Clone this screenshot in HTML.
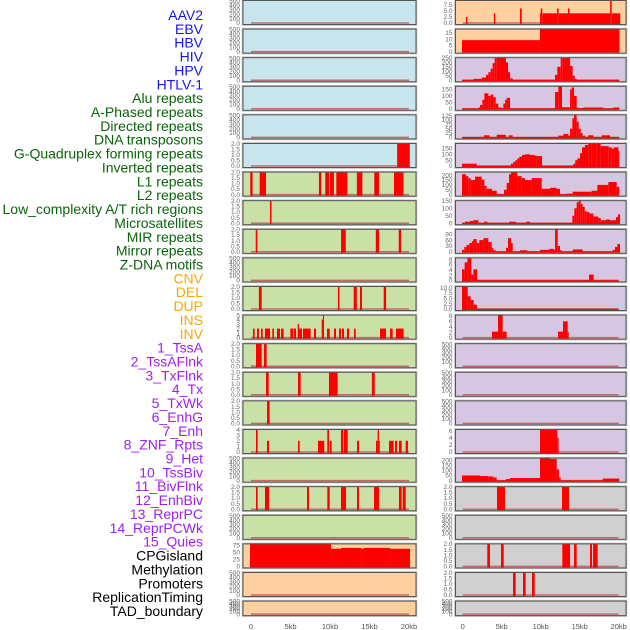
<!DOCTYPE html>
<html><head><meta charset="utf-8">
<style>
html,body{margin:0;padding:0;background:#fff;}
svg{display:block;font-family:"Liberation Sans",sans-serif;}
</style></head>
<body>
<svg id="chart" width="630" height="630" viewBox="0 0 630 630"></svg>
<script>
const labels = ["AAV2","EBV","HBV","HIV","HPV","HTLV-1","Alu repeats","A-Phased repeats","Directed repeats","DNA transposons","G-Quadruplex forming repeats","Inverted repeats","L1 repeats","L2 repeats","Low_complexity A/T rich regions","Microsatellites","MIR repeats","Mirror repeats","Z-DNA motifs","CNV","DEL","DUP","INS","INV","1_TssA","2_TssAFlnk","3_TxFlnk","4_Tx","5_TxWk","6_EnhG","7_Enh","8_ZNF_Rpts","9_Het","10_TssBiv","11_BivFlnk","12_EnhBiv","13_ReprPC","14_ReprPCWk","15_Quies","CPGisland","Methylation","Promoters","ReplicationTiming","TAD_boundary"];
const labelGroups = [6,13,5,15,5];
const groupColors = ["#1515f0","#0a640a","#ffa500","#a020f0","#000000"];

const xTicks = [0,5,10,15,20];
const xTickLabels = ["0","5kb","10kb","15kb","20kb"];

const T500 = ["0","100","200","300","400","500"], V500=[0,100,200,300,400,500];
const T2 = ["0.0","0.5","1.0","1.5","2.0"], V2=[0,0.5,1,1.5,2];

const leftBg = ["b","b","b","b","b","b","g","g","g","g","g","g","g","g","g","g","g","g","g","o","o","o"];
const leftMax = [520,520,520,520,520,2.05,2.05,2.05,2.05,520,2.05,5.1,2.05,2.05,2.05,4.1,520,2.05,520,82,520,520];
const leftTickVals = [V500,V500,V500,V500,V500,V2,V2,V2,V2,V500,V2,[0,1,2,3,4,5],V2,V2,V2,[0,1,2,3,4],V500,V2,V500,[0,25,50,75],V500,V500];
const leftTickText = [T500,T500,T500,T500,T500,T2,T2,T2,T2,T500,T2,["0","1","2","3","4","5"],T2,T2,T2,["0","1","2","3","4"],T500,T2,T500,["0","25","50","75"],T500,T500];
const leftSegs = [
 [],[],[],[],[],
 [[18.5,20.1,2]],
 [[-0.1,0.2,2],[1.1,1.9,2],[8.6,8.9,2],[9.4,9.9,2],[10,10.5,2],[10.8,12.2,2],[13.4,14.1,2],[15.6,16.2,2],[18.1,19.3,2]],
 [[2.4,2.6,2]],
 [[0.6,0.8,2],[11.4,12,2],[15.8,16.2,2],[18.7,19,2]],
 [],
 [[1,1.35,2],[11,11.2,2],[13,13.4,2],[13.8,14.05,2],[16.8,17.1,2]],
 [[0.25,0.46,2],[0.76,1.01,2],[1.27,1.48,2],[1.77,2.41,2],[2.7,2.91,2],[3.29,3.67,2],[3.8,4.13,2],[4.98,5.36,2],[5.44,5.7,2],[5.91,6.08,3],[6.08,6.46,2],[6.58,7.55,2],[7.97,8.23,2],[8.95,9.11,4],[9.11,9.24,5],[9.62,9.96,2],[10.5,10.76,2],[11.14,11.39,2],[11.52,11.77,2],[12.15,12.41,2],[13.04,13.25,2],[16.33,17.09,2],[17.6,17.93,2],[18.35,19.32,2]],
 [[0.63,1.35,2],[1.65,1.98,2]],
 [[1.9,2.24,2],[5.95,6.29,2],[9.87,10.97,2],[15.3,15.66,2]],
 [[2.03,2.36,2]],
 [[0.63,0.84,4],[2.03,2.28,2],[5.95,6.16,2],[8.48,9.28,2],[9.66,9.87,4],[9.96,10.21,2],[11.39,11.68,4],[11.77,12.24,4],[13.42,13.67,2],[15.82,16.03,2],[16.03,16.2,4],[16.2,16.29,2],[17.47,18.06,2],[18.23,18.48,2],[18.73,19.07,2],[19.58,19.87,2]],
 [],
 [[0.63,0.84,2],[1.77,2.28,2],[7.09,7.34,2],[9.66,9.96,2],[11.39,12.03,2],[13.42,13.67,2],[15.57,16.2,2],[18.73,19.07,2],[19.2,19.58,2]],
 [],
 [[-0.13,10.13,82],[10.13,11.39,63],[11.39,13.92,66],[13.92,14.3,63],[14.3,17.6,66],[17.6,20.13,63]],
 [],[]
];

const rightBg = ["o","o","p","p","p","p","p","p","p","p","p","p","p","p","p","p","p","y","y","y","y","y"];
const rightMax = [9.5,18.5,257,178,132,197,237,155,118,8.7,10.8,8.5,520,520,520,6.5,224,2.05,520,2.05,2.05,520];
const rightTickVals = [[0,2.5,5,7.5],[0,5,10,15],[0,50,100,150,200,250],[0,50,100,150],[0,25,50,75,100,125],[0,50,100,150],[0,50,100,150,200],[0,50,100,150],[0,30,60,90],[0,2,4,6,8],[0,2.5,5,7.5,10],[0,2,4,6,8],V500,V500,V500,[0,2,4,6],[0,50,100,150,200],V2,V500,V2,V2,V500];
const rightTickText = [["0.0","2.5","5.0","7.5"],["0","5","10","15"],["0","50","100","150","200","250"],["0","50","100","150"],["0","25","50","75","100","125"],["0","50","100","150"],["0","50","100","150","200"],["0","50","100","150"],["0","30","60","90"],["0","2","4","6","8"],["0.0","2.5","5.0","7.5","10.0"],["0","2","4","6","8"],T500,T500,T500,["0","2","4","6"],["0","50","100","150","200"],T2,T500,T2,T2,T500];
// step series: [x, value] pairs, last pair gives end x
const rightSteps = [
 [[0.42,2.5],[0.6,0],[4.0,4],[4.18,0],[7.35,6],[7.56,0],[9.9,4],[10.0,6],[10.2,4],[12.1,6],[12.3,4],[13.5,6],[13.7,4],[18.9,9.5],[19.1,4],[20.2,null]],
 [[-0.09,9.2],[9.9,18.5],[20.1,null]],
 [[-0.09,5],[1.37,15],[2.43,30],[2.99,60],[3.29,90],[3.59,130],[3.84,190],[4.1,250],[4.36,257],[5.55,200],[5.81,90],[6.07,20],[6.41,5],[11.84,60],[12.13,150],[12.56,257],[12.82,250],[13.76,160],[14.1,50],[14.36,15],[14.61,5],[20.08,null]],
 [[-0.09,3],[2.01,10],[2.22,30],[2.52,70],[2.78,120],[3.29,100],[3.59,110],[3.93,90],[4.23,40],[4.57,10],[4.99,5],[5.21,40],[5.43,70],[5.64,85],[6.07,3],[11.84,130],[12.26,178],[12.73,12],[13.76,150],[13.97,165],[14.27,100],[14.61,10],[14.83,5],[15.47,10],[18.03,3],[19.31,10],[20.08,null]],
 [[-0.09,2],[2.73,12],[3.42,2],[4.36,15],[5.55,2],[5.9,12],[6.41,2],[12.26,10],[12.9,20],[13.55,10],[13.76,50],[14.06,110],[14.27,132],[14.61,90],[14.87,50],[15.13,25],[15.38,10],[15.72,2],[16.07,12],[16.75,2],[17.82,12],[18.89,2],[20.08,null]],
 [[-0.09,20],[1.79,2],[6.19,20],[6.49,35],[6.75,50],[7.0,65],[7.26,80],[7.6,95],[7.99,100],[8.63,95],[9.14,90],[9.48,85],[10.17,2],[14.19,20],[14.44,50],[14.7,65],[15.04,110],[15.3,160],[15.68,180],[16.11,190],[16.54,197],[17.18,190],[17.69,170],[18.72,160],[19.1,150],[19.4,160],[19.96,130],[20.08,null]],
 [[-0.09,210],[0.43,190],[0.72,170],[1.02,150],[1.58,185],[2.43,155],[2.78,90],[3.07,60],[3.76,40],[4.36,5],[5.3,50],[5.64,120],[5.94,210],[6.19,230],[7.0,190],[7.56,170],[7.99,150],[8.84,170],[10.13,60],[11.2,70],[12.05,60],[12.48,5],[13.33,10],[14.1,30],[16.54,40],[17.26,100],[18.67,130],[19.74,80],[20.08,null]],
 [[-0.09,3],[0.3,10],[0.94,15],[1.37,20],[2.01,3],[2.73,10],[3.16,3],[5.94,10],[6.84,3],[8.12,10],[8.63,3],[14.06,50],[14.31,100],[14.61,140],[14.87,155],[15.13,130],[15.38,110],[15.64,80],[15.9,75],[16.24,65],[16.75,45],[17.39,35],[17.69,20],[18.37,25],[18.89,20],[19.65,40],[19.91,60],[20.17,null]],
 [[-0.09,10],[0.21,25],[0.51,35],[0.85,45],[1.19,55],[1.37,65],[1.79,45],[2.13,60],[2.65,70],[3.29,50],[3.72,20],[3.93,8],[4.23,2],[5.55,20],[5.81,70],[6.19,45],[6.41,2],[7.35,8],[8.29,2],[9.91,10],[11.11,15],[11.71,10],[11.84,118],[12.18,30],[12.48,8],[12.69,2],[14.1,12],[15.38,2],[19.23,10],[19.53,25],[19.83,40],[20.17,null]],
 [[-0.09,4.2],[0.25,6.8],[0.6,8.7],[1.11,2.2],[1.37,4.2],[1.84,0.1],[16.2,2.2],[16.79,0.1],[19.99,null]],
 [[-0.09,10.8],[0.64,6],[1.02,4.2],[1.41,2],[1.84,0.1],[19.99,null]],
 [[3.76,2.2],[4.53,8.5],[5.13,2.2],[5.64,0],[12.22,2.2],[12.86,6],[13.46,2.2],[13.59,null]],
 [],[],[],
 [[9.91,6.5],[12.13,4],[12.3,null]],
 [[-0.09,50],[2.22,45],[3.28,40],[3.93,30],[4.36,3],[5.55,15],[6.07,25],[9.91,224],[11.19,210],[12.05,110],[12.35,30],[12.56,3],[17.95,20],[20.08,null]],
 [[4.4,2],[5.42,0],[12.73,2],[13.63,null]],
 [],
 [[3.15,2],[3.5,0],[4.91,2],[5.26,0],[12.77,2],[13.76,0],[14.27,2],[14.61,0],[16.32,2],[16.58,0],[16.71,2],[17.3,null]],
 [[6.45,2],[6.79,0],[7.73,2],[8.07,0],[8.88,2],[9.23,null]],
 []
];

const bgColors = {b:"#c8e4ec",g:"#c9e1a6",o:"#fecf9f",p:"#d6c6e1",y:"#d0d0d0"};
const NS = "http://www.w3.org/2000/svg";
const svg = document.getElementById('chart');
function mk(tag, attrs, parent){
  const e = document.createElementNS(NS, tag);
  for (const k in attrs) e.setAttribute(k, attrs[k]);
  (parent||svg).appendChild(e);
  return e;
}

let li = 0;
labelGroups.forEach((n, g) => {
  for (let k = 0; k < n; k++) {
    const t = mk('text', {x:203, y:(20 + li*13.86).toFixed(1), 'text-anchor':'end', 'font-size':'14', fill:groupColors[g]});
    
    
    t.textContent = labels[li];
    li++;
  }
});

const step = 28.6;
function panel(side, i, bg, maxV, tv, tt, segs) {
  const left = side === 'left' ? 243 : 455.5;
  const width = side === 'left' ? 173 : 170.5;
  const x0px = side === 'left' ? 251 : 462.7;
  const kbPx = side === 'left' ? 7.9 : 7.8;
  const xs = kb => x0px + kb*kbPx;
  const top = i*step;
  const h = i === 21 ? 15 : 24.5;
  const base = top + h - 1.5;
  const ys = v => base - v/maxV*(h - 1.5);
  const g = mk('g', {});
  
  
  mk('rect', {x:left-0.5, y:top, width:width+1, height:h+0.5, fill:'none', stroke:'#bbb', 'stroke-width':1.5}, g);
  const r = mk('rect', {x:left, y:top+0.5, width:width, height:h-0.5, fill:bgColors[bg]}, g);
  
  
  mk('line', {x1:xs(0), x2:xs(20), y1:base, y2:base, stroke:'#c05050', 'stroke-width':1.5, opacity:0.8}, g);
  segs.forEach(s => {
    if (s[2] <= 0) return;
    const b = mk('rect', {x:xs(s[0]).toFixed(2), y:ys(Math.min(s[2],maxV)).toFixed(2), width:Math.max(0.8, xs(s[1])-xs(s[0])).toFixed(2), height:(base - ys(Math.min(s[2],maxV)) + 1).toFixed(2), fill:'#ff0000'}, g);
    
    
  });
  mk('rect', {x:left, y:top+0.5, width:width, height:h-0.5, fill:'none', stroke:'#555', 'stroke-width':1}, g);
  tv.forEach((v, k) => {
    const t = mk('text', {x:left-3, y:(ys(v)+2.2).toFixed(1), 'text-anchor':'end', 'font-size':'6.5', fill:'#666'}, g);
    
    
    t.textContent = tt[k];
  });
}
function stepsToSegs(st){
  const out = [];
  for (let k = 0; k < st.length-1; k++) out.push([st[k][0], st[k+1][0], st[k][1]]);
  return out;
}
for (let i = 0; i < 22; i++) {
  panel('left', i, leftBg[i], leftMax[i], leftTickVals[i], leftTickText[i], leftSegs[i]);
  panel('right', i, rightBg[i], rightMax[i], rightTickVals[i], rightTickText[i], stepsToSegs(rightSteps[i]));
}
[['left',251,7.9],['right',462.7,7.8]].forEach(a => {
  xTicks.forEach((v, k) => {
    const t = mk('text', {x:(a[1]+v*a[2]).toFixed(1), y:629, 'text-anchor':'middle', 'font-size':'7.5', fill:'#555'});
    
    
    t.textContent = xTickLabels[k];
  });
});
</script>
</body></html>
